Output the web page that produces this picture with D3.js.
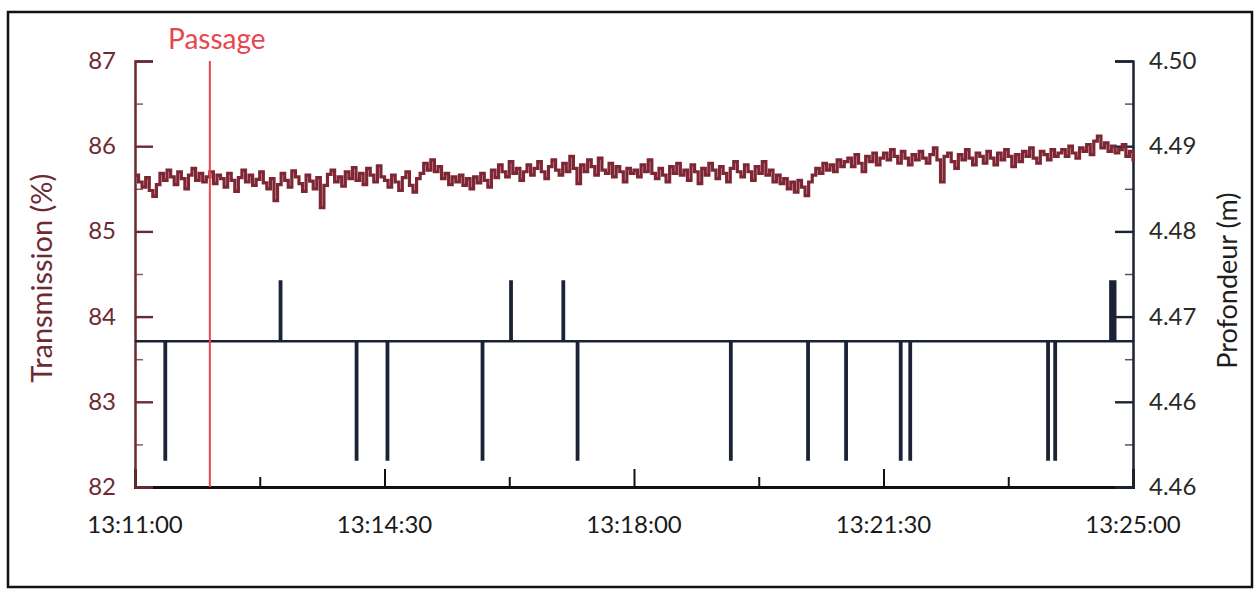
<!DOCTYPE html>
<html>
<head>
<meta charset="utf-8">
<script src="https://cdn.jsdelivr.net/npm/d3@7"></script>
<style>
  body { margin: 0; background: #fff; }
  svg text { font-family: Lato, "Open Sans", sans-serif; }
</style>
</head>
<body>
<div id="chart"></div>
<script>
'use strict'

// time axis
var startTime = "13:11:00";
var endTime = "13:25:00";
var xTickLabels = ["13:11:00", "13:14:30", "13:18:00", "13:21:30", "13:25:00"];
var passageTime = "13:12:03";

// transmission (%), one reading every 3 s from 13:11:00
var transStep = 3;
var transmission = [
  85.66, 85.58, 85.52, 85.63, 85.48, 85.41, 85.55, 85.68, 85.60, 85.72,
  85.64, 85.55, 85.70, 85.62, 85.50, 85.66, 85.74, 85.60, 85.68, 85.58,
  85.64, 85.70, 85.56, 85.66, 85.62, 85.52, 85.68, 85.60, 85.47, 85.63,
  85.72, 85.58, 85.66, 85.54, 85.61, 85.70, 85.57, 85.50, 85.62, 85.36,
  85.55, 85.68, 85.60, 85.52, 85.71, 85.64, 85.56, 85.47, 85.66, 85.59,
  85.50, 85.63, 85.28, 85.54, 85.67, 85.72, 85.58, 85.64, 85.53, 85.70,
  85.62, 85.75, 85.60, 85.68, 85.55, 85.74, 85.66, 85.58, 85.77, 85.64,
  85.60, 85.52, 85.66, 85.58, 85.48, 85.63, 85.70, 85.54, 85.46, 85.62,
  85.68, 85.80, 85.72, 85.84, 85.70, 85.76, 85.62, 85.68, 85.55, 85.64,
  85.58, 85.66, 85.54, 85.62, 85.50, 85.64, 85.57, 85.68, 85.60, 85.52,
  85.72, 85.63, 85.78, 85.70, 85.64, 85.82, 85.68, 85.74, 85.60, 85.70,
  85.78, 85.66, 85.74, 85.82, 85.70, 85.62, 85.76, 85.84, 85.72, 85.66,
  85.80, 85.70, 85.88, 85.74, 85.56, 85.78, 85.70, 85.84, 85.76, 85.66,
  85.86, 85.72, 85.68, 85.80, 85.64, 85.76, 85.70, 85.58, 85.74, 85.68,
  85.72, 85.64, 85.78, 85.70, 85.84, 85.68, 85.62, 85.74, 85.66, 85.58,
  85.76, 85.68, 85.80, 85.66, 85.72, 85.60, 85.78, 85.70, 85.56, 85.74,
  85.66, 85.80, 85.72, 85.62, 85.76, 85.68, 85.58, 85.74, 85.82, 85.70,
  85.64, 85.78, 85.70, 85.60, 85.76, 85.68, 85.82, 85.66, 85.72, 85.58,
  85.66, 85.56, 85.62, 85.50, 85.58, 85.46, 85.60, 85.52, 85.42, 85.58,
  85.66, 85.74, 85.68, 85.80, 85.72, 85.78, 85.70, 85.84, 85.76, 85.82,
  85.86, 85.76, 85.90, 85.80, 85.70, 85.88, 85.82, 85.92, 85.78, 85.86,
  85.92, 85.84, 85.96, 85.88, 85.80, 85.94, 85.86, 85.78, 85.90, 85.84,
  85.94, 85.86, 85.80, 85.90, 85.98, 85.84, 85.58, 85.88, 85.92, 85.82,
  85.74, 85.90, 85.84, 85.96, 85.86, 85.78, 85.92, 85.88, 85.80, 85.94,
  85.86, 85.78, 85.92, 85.84, 85.96, 85.88, 85.76, 85.90, 85.82, 85.94,
  85.88, 85.98, 85.86, 85.80, 85.94, 85.90, 85.84, 85.96, 85.88, 85.92,
  85.96, 85.88, 86.00, 85.92, 85.86, 85.98, 85.94, 86.02, 85.90, 86.06,
  86.12, 85.98, 86.04, 85.94, 86.00, 85.92, 85.96, 86.02, 85.88, 85.94,
  85.82
];

// depth (m): steady level with short spikes
var depthBase = 4.4704;
var depthSpikeTimes = [
  "13:11:25", "13:13:02", "13:14:06", "13:14:32", "13:15:52", "13:16:16",
  "13:17:00", "13:17:12", "13:19:21", "13:20:26", "13:20:58", "13:21:44",
  "13:21:52", "13:23:48", "13:23:54", "13:24:41", "13:24:44"
];
var depthSpikeValues = [
  4.4579, 4.4767, 4.4579, 4.4579, 4.4579, 4.4767,
  4.4767, 4.4579, 4.4579, 4.4579, 4.4579, 4.4579,
  4.4579, 4.4579, 4.4579, 4.4767, 4.4767
];

// axes
var transTicks = [82, 83, 84, 85, 86, 87];
var depthTicks = [4.455, 4.464, 4.473, 4.482, 4.491, 4.500];

var width = 1258, height = 593;
var margin = {left: 135, right: 125, top: 61, bottom: 106};

var parseT = d3.timeParse("%H:%M:%S");
var fmtT = d3.timeFormat("%H:%M:%S");

var svg = d3.select("#chart").append("svg")
    .attr("width", width).attr("height", height);

// frame
svg.append("rect")
    .attr("x", 8).attr("y", 12)
    .attr("width", 1244).attr("height", 575)
    .attr("fill", "none").attr("stroke", "#111").attr("stroke-width", 2.5);

var x = d3.scaleTime()
    .domain([parseT(startTime), parseT(endTime)])
    .range([margin.left, width - margin.right]);
var yT = d3.scaleLinear().domain([82, 87]).range([height - margin.bottom, margin.top]);
var yD = d3.scaleLinear().domain([4.455, 4.50]).range([height - margin.bottom, margin.top]);

var plotBottom = height - margin.bottom;

function mids(arr) {
    return d3.pairs(arr).map(function (p) { return (+p[0] + +p[1]) / 2; });
}

// x axis
var xTicks = xTickLabels.map(parseT);
var xMinor = mids(xTicks).map(function (v) { return new Date(v); });

var gxMinor = svg.append("g").attr("transform", "translate(0," + plotBottom + ")")
    .call(d3.axisTop(x).tickValues(xMinor).tickSize(10).tickFormat(""));
var gx = svg.append("g").attr("transform", "translate(0," + plotBottom + ")")
    .call(d3.axisTop(x).tickValues(xTicks).tickSize(18).tickFormat(""));
svg.selectAll("g").selectAll("path,line").attr("stroke", "#111").attr("stroke-width", 2);
gx.select(".domain").attr("stroke-width", 3);
gx.selectAll(".lbl").data(xTicks).enter().append("text")
    .attr("x", function (d) { return x(d); })
    .attr("y", 46)
    .attr("text-anchor", "middle")
    .attr("font-size", 24)
    .attr("fill", "#1a1a1a")
    .text(fmtT);

// left axis
var glMinor = svg.append("g").attr("transform", "translate(" + margin.left + ",0)")
    .call(d3.axisRight(yT).tickValues(mids(transTicks)).tickSize(8).tickFormat(""));
var gl = svg.append("g").attr("transform", "translate(" + margin.left + ",0)")
    .call(d3.axisRight(yT).tickValues(transTicks).tickSize(18).tickFormat(""));
glMinor.selectAll("path,line").attr("stroke", "#8a5a60").attr("stroke-width", 1.5);
gl.selectAll("path,line").attr("stroke", "#6b2a33").attr("stroke-width", 2.4);
gl.selectAll(".lbl").data(transTicks).enter().append("text")
    .attr("x", -19)
    .attr("y", function (d) { return yT(d) + 8; })
    .attr("text-anchor", "end")
    .attr("font-size", 24)
    .attr("fill", "#6e2a33")
    .text(function (d) { return d; });

svg.append("text")
    .attr("transform", "translate(52," + (yT(84.45)) + ") rotate(-90)")
    .attr("text-anchor", "middle")
    .attr("font-size", 29)
    .attr("fill", "#6e2a33")
    .text("Transmission (%)");

// right axis
var grMinor = svg.append("g").attr("transform", "translate(" + (width - margin.right) + ",0)")
    .call(d3.axisLeft(yD).tickValues(mids(depthTicks)).tickSize(8).tickFormat(""));
var gr = svg.append("g").attr("transform", "translate(" + (width - margin.right) + ",0)")
    .call(d3.axisLeft(yD).tickValues(depthTicks).tickSize(18).tickFormat(""));
grMinor.selectAll("path,line").attr("stroke", "#555").attr("stroke-width", 1.5);
gr.selectAll("path,line").attr("stroke", "#1d2333").attr("stroke-width", 2.4);
gr.selectAll(".lbl").data(depthTicks).enter().append("text")
    .attr("x", 16)
    .attr("y", function (d) { return yD(d) + 8; })
    .attr("text-anchor", "start")
    .attr("font-size", 24)
    .attr("fill", "#2a2a2a")
    .text(d3.format(".2f"));

svg.append("text")
    .attr("transform", "translate(1237," + (yD(4.4768)) + ") rotate(-90)")
    .attr("text-anchor", "middle")
    .attr("font-size", 27)
    .attr("fill", "#1d1d1d")
    .text("Profondeur (m)");

// transmission line
var t0 = parseT(startTime);
var transData = transmission.map(function (v, i) {
    return {t: new Date(+t0 + i * transStep * 1000), v: v};
});
svg.append("path")
    .datum(transData)
    .attr("fill", "none")
    .attr("stroke", "#7e2634")
    .attr("stroke-width", 3.2)
    .attr("stroke-linejoin", "miter")
    .attr("d", d3.line()
        .x(function (d) { return x(d.t); })
        .y(function (d) { return yT(d.v); })
        .curve(d3.curveStepAfter));

// depth line
var depthData = [{t: parseT(startTime), v: depthBase}];
depthSpikeTimes.forEach(function (s, i) {
    var t = parseT(s);
    var t2 = new Date(+t + 1000);
    depthData.push({t: t, v: depthBase});
    depthData.push({t: t, v: depthSpikeValues[i]});
    depthData.push({t: t2, v: depthSpikeValues[i]});
    depthData.push({t: t2, v: depthBase});
});
depthData.push({t: parseT(endTime), v: depthBase});

svg.append("path")
    .datum(depthData)
    .attr("fill", "none")
    .attr("stroke", "#1c2236")
    .attr("stroke-width", 2.6)
    .attr("d", d3.line()
        .x(function (d) { return x(d.t); })
        .y(function (d) { return yD(d.v); }));

// passage marker
var px = x(parseT(passageTime));
svg.append("line")
    .attr("x1", px).attr("x2", px)
    .attr("y1", margin.top).attr("y2", plotBottom)
    .attr("stroke", "#e8464e").attr("stroke-width", 2);
svg.append("text")
    .attr("x", px + 7).attr("y", 49)
    .attr("text-anchor", "middle")
    .attr("font-size", 28)
    .attr("fill", "#e8464e")
    .text("Passage");
</script>
</body>
</html>
